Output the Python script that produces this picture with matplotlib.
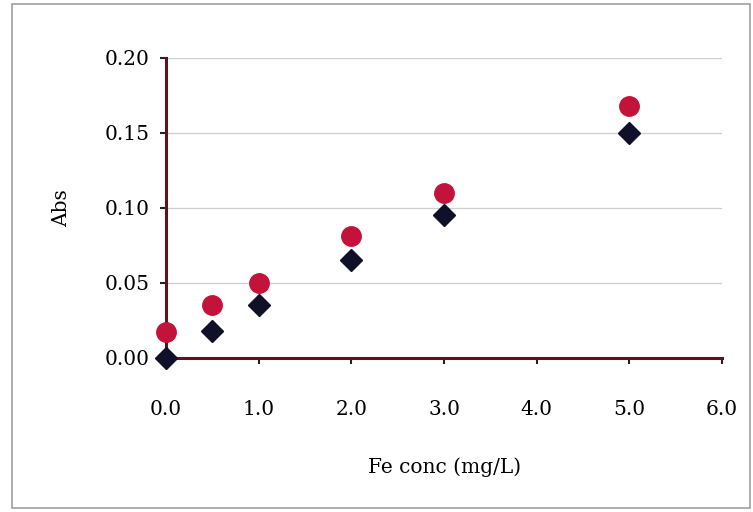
import matplotlib.pyplot as plt
from matplotlib.patches import Rectangle

plt.rcParams['font.family'] = ['DejaVu Serif']

# data
fe_conc = [0.0, 0.5, 1.0, 2.0, 3.0, 5.0]
abs_red = [0.017, 0.035, 0.050, 0.081, 0.110, 0.168]
abs_black = [0.000, 0.018, 0.035, 0.065, 0.095, 0.150]
xticks = [0, 1, 2, 3, 4, 5, 6]
yticks = [0.00, 0.05, 0.10, 0.15, 0.20]

fig = plt.figure(figsize=(7.53, 5.12), dpi=100)
ax = fig.add_axes([0.2205, 0.3008, 0.7385, 0.5862])

# grey frame around the whole chart
fig.patches.append(Rectangle((0.016, 0.008), 0.98, 0.985, transform=fig.transFigure,
                             fill=False, edgecolor='#a0a0a0', linewidth=1.2))

ax.set_xlim(0, 6)
ax.set_ylim(0, 0.20)
ax.set_xticks(xticks)
ax.set_yticks(yticks)
ax.set_xticklabels(['%.1f' % v for v in xticks])
ax.set_yticklabels(['%.2f' % v for v in yticks])

ax.grid(axis='y', color='#cfcfcf', linewidth=0.9)
ax.set_axisbelow(True)

ax.plot(fe_conc, abs_red, 'o', color='#c3133b', markersize=14, zorder=3, clip_on=False)
ax.plot(fe_conc, abs_black, 'D', color='#101028', markersize=11.5, zorder=4, clip_on=False)

for s in ['top', 'right']:
    ax.spines[s].set_visible(False)
for s in ['left', 'bottom']:
    ax.spines[s].set_color('#5a1420')
    ax.spines[s].set_linewidth(2.2)

ax.tick_params(axis='both', direction='out', length=4, width=1.5, color='#222222',
               labelsize=14.5)
ax.tick_params(axis='x', pad=26)
ax.tick_params(axis='y', pad=8)

ax.set_xlabel('Fe conc (mg/L)', fontsize=14.5, labelpad=28)
ax.set_ylabel('Abs', fontsize=14.5, labelpad=24)

fig.savefig('out.png', dpi=100)
